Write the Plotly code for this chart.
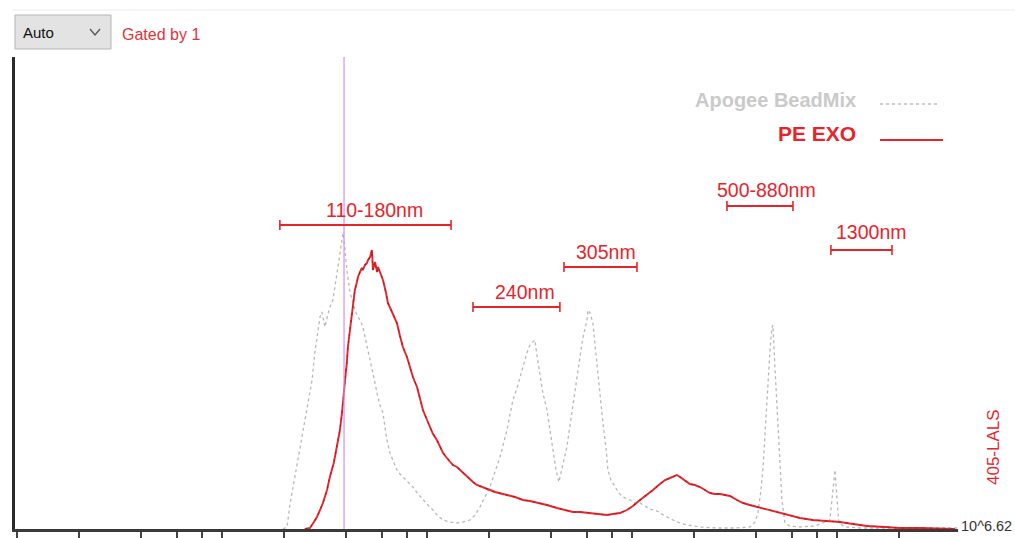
import numpy as np
import plotly.graph_objects as go

# ---------------- data (x in log10 intensity, y in event counts) ----------------
gray_lx = [2.995, 3.015, 3.029, 3.044, 3.063, 3.078, 3.093, 3.112, 3.127, 3.137, 3.151, 3.161, 3.176, 3.185,
           3.200, 3.210, 3.224, 3.239, 3.249, 3.263, 3.273, 3.283, 3.288, 3.298, 3.307, 3.322, 3.332, 3.346,
           3.361, 3.376, 3.385, 3.405, 3.420, 3.439, 3.454, 3.468, 3.483, 3.502, 3.517, 3.537, 3.551, 3.566,
           3.580, 3.605, 3.629, 3.654, 3.678, 3.702, 3.727, 3.751, 3.776, 3.810, 3.844, 3.873, 3.907, 3.932,
           3.956, 3.980, 4.005, 4.029, 4.054, 4.073, 4.088, 4.102, 4.117, 4.137, 4.151, 4.166, 4.185, 4.200,
           4.215, 4.224, 4.234, 4.249, 4.263, 4.283, 4.298, 4.312, 4.327, 4.341, 4.356, 4.371, 4.380, 4.395,
           4.410, 4.429, 4.444, 4.459, 4.478, 4.483, 4.493, 4.507, 4.517, 4.532, 4.541, 4.556, 4.571, 4.580,
           4.595, 4.615, 4.634, 4.654, 4.688, 4.712, 4.737, 4.761, 4.785, 4.820, 4.859, 4.898, 4.932, 4.966,
           5.029, 5.112, 5.200, 5.273, 5.298, 5.312, 5.327, 5.337, 5.346, 5.356, 5.366, 5.371, 5.380, 5.385,
           5.395, 5.405, 5.410, 5.420, 5.429, 5.444, 5.468, 5.517, 5.590, 5.639, 5.663, 5.673, 5.678, 5.688,
           5.698, 5.707, 5.737, 5.810, 6.005, 6.288]
gray_counts = [0, 2, 24, 42, 64, 82, 99, 122, 139, 149, 177, 192, 212, 217,
               202, 211, 222, 229, 242, 262, 274, 289, 296, 279, 259, 237, 229, 219,
               212, 207, 202, 184, 169, 151, 136, 124, 116, 89, 76, 67, 59, 55,
               52, 47, 42, 35, 29, 24, 19, 13, 9, 7, 6, 7, 9, 14,
               22, 32, 42, 57, 72, 87, 99, 114, 129, 141, 152, 164, 176, 184,
               187, 189, 174, 152, 136, 119, 97, 76, 59, 47, 59, 74, 82, 104,
               126, 149, 172, 192, 209, 219, 216, 206, 184, 156, 131, 106, 81, 59,
               49, 42, 36, 32, 29, 26, 26, 23, 20, 18, 13, 9, 6, 4,
               2, 1, 1, 2, 7, 16, 39, 62, 94, 129, 159, 179, 201, 204,
               162, 119, 96, 59, 29, 6, 3, 2, 3, 7, 9, 29, 42, 59,
               29, 6, 2, 1, 1, 1]

red_lx = [3.102, 3.127, 3.146, 3.161, 3.176, 3.190, 3.210, 3.224, 3.244, 3.259, 3.273, 3.283, 3.293, 3.298,
          3.307, 3.312, 3.322, 3.332, 3.341, 3.346, 3.356, 3.361, 3.371, 3.380, 3.385, 3.395, 3.405, 3.410,
          3.420, 3.429, 3.434, 3.444, 3.454, 3.459, 3.468, 3.483, 3.498, 3.507, 3.527, 3.541, 3.551, 3.566,
          3.580, 3.600, 3.615, 3.629, 3.649, 3.663, 3.678, 3.698, 3.712, 3.727, 3.746, 3.761, 3.776, 3.795,
          3.810, 3.824, 3.844, 3.859, 3.873, 3.893, 3.907, 3.922, 3.941, 3.956, 3.980, 4.005, 4.029, 4.054,
          4.088, 4.127, 4.166, 4.200, 4.249, 4.283, 4.332, 4.371, 4.410, 4.444, 4.493, 4.532, 4.576, 4.605,
          4.639, 4.673, 4.702, 4.737, 4.771, 4.800, 4.834, 4.859, 4.883, 4.898, 4.917, 4.932, 4.951, 4.966,
          4.980, 5.005, 5.029, 5.054, 5.078, 5.102, 5.127, 5.151, 5.176, 5.210, 5.239, 5.273, 5.312, 5.356,
          5.395, 5.454, 5.517, 5.580, 5.649, 5.712, 5.776, 5.844, 5.932, 6.005, 6.102, 6.200, 6.273]
red_counts = [0, 1, 7, 12, 19, 26, 39, 52, 67, 82, 99, 116, 134, 149,
              167, 182, 199, 216, 229, 239, 247, 252, 257, 261, 259, 264, 266, 269,
              272, 279, 259, 267, 257, 262, 257, 249, 236, 226, 217, 211, 206, 193,
              182, 172, 162, 152, 142, 131, 119, 109, 102, 95, 89, 82, 76, 71,
              67, 64, 62, 59, 56, 52, 50, 47, 44, 43, 41, 39, 37, 36,
              34, 32, 29, 28, 26, 24, 21, 19, 17, 17, 16, 15, 14, 15,
              16, 19, 23, 29, 34, 39, 45, 49, 51, 52, 54, 52, 49, 47,
              45, 44, 42, 39, 36, 35, 35, 34, 33, 29, 26, 24, 22, 19,
              17, 14, 11, 9, 8, 7, 5, 3, 2, 1, 1, 0, 0]

# size-calibration ranges
range_labels = ["110-180nm", "240nm", "305nm", "500-880nm", "1300nm"]
range_lo = [2.980, 3.922, 4.366, 5.161, 5.668]
range_hi = [3.815, 4.346, 4.722, 5.483, 5.966]
range_level = [304, 222, 262, 323, 279]
label_lx = [3.444, 4.176, 4.571, 5.356, 5.863]
label_level = [319, 237, 277, 339, 297]

gate_lx = 3.293
tick_values = [50, 100, 200, 300, 400, 500, 1000, 2000, 3000, 4000, 5000,
               10000, 20000, 30000, 40000, 50000, 100000, 200000, 300000, 400000, 500000, 1000000]
x_range = [1.688, 6.288]
y_max = 472

RED = "#e8242b"
GRAY = "#b8b8b8"
FONT = "Liberation Sans, Arial, sans-serif"

fig = go.Figure()

fig.add_trace(go.Scatter(x=gray_lx, y=gray_counts, mode="lines",
                         line=dict(color=GRAY, width=1.3, dash="dot"), hoverinfo="skip"))
fig.add_trace(go.Scatter(x=red_lx, y=red_counts, mode="lines",
                         line=dict(color=RED, width=1.9), hoverinfo="skip"))
# darker speckle texture of the noisy red histogram
fig.add_trace(go.Scatter(x=red_lx, y=red_counts, mode="lines",
                         line=dict(color="#b5161c", width=1.1, dash="2px,5px"), hoverinfo="skip"))

# gate line
fig.add_trace(go.Scatter(x=[gate_lx, gate_lx], y=[0, y_max], mode="lines",
                         line=dict(color="#d58ff0", width=1.2), hoverinfo="skip"))

# range bars
for lo, hi, lev in zip(range_lo, range_hi, range_level):
    fig.add_trace(go.Scatter(x=[lo, hi], y=[lev, lev], mode="lines+markers",
                             line=dict(color=RED, width=1.8),
                             marker=dict(symbol="line-ns-open", size=7,
                                         line=dict(color=RED, width=1.6)),
                             hoverinfo="skip"))

annotations = []
for txt, lx, lev in zip(range_labels, label_lx, label_level):
    annotations.append(dict(x=lx, y=lev, xref="x", yref="y", text=txt, showarrow=False,
                            font=dict(family=FONT, size=19.5, color=RED),
                            xanchor="center", yanchor="middle"))

def px_x(p):
    return (p - 15) / 943.0

def px_y(p):
    return (529 - p) / 472.0

# legend texts
annotations.append(dict(x=px_x(858), y=px_y(100), xref="paper", yref="paper", text="<b>Apogee BeadMix</b>",
                        showarrow=False, xanchor="right", yanchor="middle",
                        font=dict(family=FONT, size=20, color="#cacaca")))
annotations.append(dict(x=px_x(858), y=px_y(133), xref="paper", yref="paper", text="<b>PE EXO</b>",
                        showarrow=False, xanchor="right", yanchor="middle",
                        font=dict(family=FONT, size=21, color=RED)))
# toolbar texts
annotations.append(dict(x=px_x(21), y=px_y(33), xref="paper", yref="paper", text="Auto",
                        showarrow=False, xanchor="left", yanchor="middle",
                        font=dict(family=FONT, size=15, color="#111111")))
annotations.append(dict(x=px_x(120), y=px_y(35), xref="paper", yref="paper", text="Gated by 1",
                        showarrow=False, xanchor="left", yanchor="middle",
                        font=dict(family=FONT, size=16, color="#e0333a")))
# axis texts
annotations.append(dict(x=px_x(959), y=px_y(526), xref="paper", yref="paper", text="10^6.62",
                        showarrow=False, xanchor="left", yanchor="middle",
                        font=dict(family=FONT, size=14.5, color="#333333")))
annotations.append(dict(x=px_x(993), y=px_y(447), xref="paper", yref="paper", text="405-LALS",
                        showarrow=False, xanchor="center", yanchor="middle", textangle=-90,
                        font=dict(family=FONT, size=17, color=RED)))

shapes = [
    # top faint border
    dict(type="line", xref="paper", yref="paper", x0=px_x(12), x1=px_x(1015), y0=px_y(10), y1=px_y(10),
         line=dict(color="#ececec", width=1)),
    # dropdown box
    dict(type="rect", xref="paper", yref="paper", x0=px_x(15), x1=px_x(111), y0=px_y(15), y1=px_y(49),
         fillcolor="#e3e3e3", line=dict(color="#b5b5b5", width=1)),
    # dropdown chevron
    dict(type="path", xref="paper", yref="paper",
         path="M %f,%f L %f,%f L %f,%f" % (px_x(90), px_y(29), px_x(95), px_y(35), px_x(100), px_y(29)),
         line=dict(color="#555555", width=1.3)),
    # legend lines
    dict(type="line", xref="paper", yref="paper", x0=px_x(880), x1=px_x(940), y0=px_y(104), y1=px_y(104),
         line=dict(color="#bdbdbd", width=1.3, dash="dot")),
    dict(type="line", xref="paper", yref="paper", x0=px_x(880), x1=px_x(943), y0=px_y(140), y1=px_y(140),
         line=dict(color=RED, width=1.8)),
]

fig.update_layout(
    width=1015, height=538,
    margin=dict(l=15, r=57, t=57, b=9),
    paper_bgcolor="white", plot_bgcolor="white",
    showlegend=False,
    annotations=annotations,
    shapes=shapes,
    xaxis=dict(range=x_range, showgrid=False, zeroline=False, automargin=False,
               tickmode="array", tickvals=list(np.log10(tick_values)), ticktext=[""] * len(tick_values),
               ticks="outside", ticklen=8, tickwidth=1.5, tickcolor="#444444",
               showline=True, linecolor="#3a3a3a", linewidth=2.5),
    yaxis=dict(range=[0, y_max], showgrid=False, zeroline=False, showticklabels=False, ticks="",
               automargin=False, showline=True, linecolor="#2a2a2a", linewidth=3),
)

fig.write_html("out.html")
